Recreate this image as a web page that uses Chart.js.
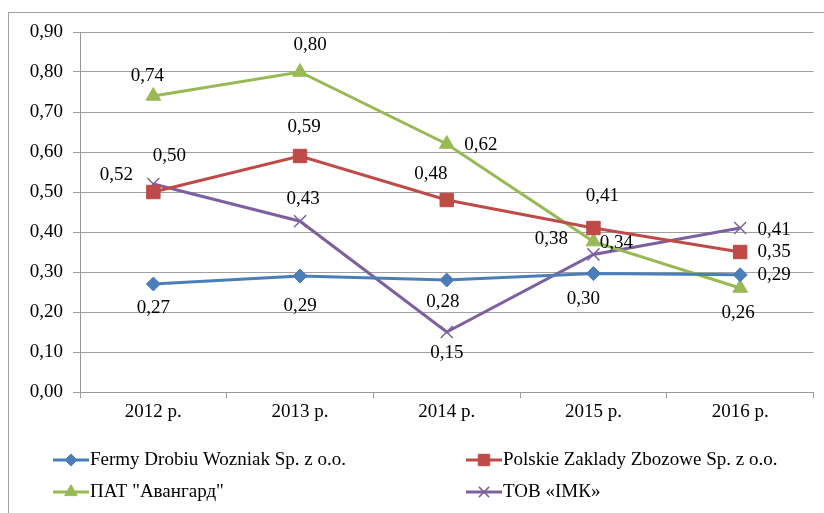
<!DOCTYPE html>
<html><head><meta charset="utf-8">
<script src="https://cdn.jsdelivr.net/npm/chart.js@4/dist/chart.umd.min.js"></script>
<style>html,body{margin:0;padding:0;background:#fff}#wrap{width:824px;height:513px;position:relative}</style>
</head><body><div id="wrap"><canvas id="c" width="824" height="513"></canvas></div>
<script>
const categories = ['2012 р.', '2013 р.', '2014 р.', '2015 р.', '2016 р.'];
const seriesNames = ['Fermy Drobiu Wozniak Sp. z o.o.', 'Polskie Zaklady Zbozowe Sp. z o.o.', 'ПАТ "Авангард"', 'ТОВ «ІМК»'];
const fermyValues = [0.27, 0.29, 0.28, 0.296, 0.293];
const polskieValues = [0.50, 0.59, 0.48, 0.41, 0.35];
const avangardValues = [0.74, 0.80, 0.62, 0.376, 0.26];
const imkValues = [0.52, 0.427, 0.15, 0.344, 0.41];
const yTickValues = [0, 0.1, 0.2, 0.3, 0.4, 0.5, 0.6, 0.7, 0.8, 0.9];

// label placement (style only): dx, dy from each point
const labelOffsets = [
  [[0,24],[0,30],[-4,22],[-10,25],[34,0]],
  [[16,-36],[4,-29],[-16,-26],[9,-32],[34,0]],
  [[-6,-20],[10,-27],[34,1],[-42,-3],[-2,25]],
  [[-37,-9],[3,-22],[0,21],[23,-11],[34,2]]
];
const colors = ['#4A7EBB', '#BE4B48', '#98B954', '#7D60A0'];
const FONT = "'Liberation Serif', 'Times New Roman', serif";
const fmt = v => v.toFixed(2).replace('.', ',');

const datasets = [
  {label: seriesNames[0], data: fermyValues, pointStyle: 'rectRot', pointRadius: 7},
  {label: seriesNames[1], data: polskieValues, pointStyle: 'rect', pointRadius: 9.5},
  {label: seriesNames[2], data: avangardValues, pointStyle: 'triangle', pointRadius: 8.5},
  {label: seriesNames[3], data: imkValues, pointStyle: 'crossRot', pointRadius: 8.5}
].map((d, i) => Object.assign(d, {
  borderColor: colors[i], backgroundColor: colors[i],
  pointBackgroundColor: colors[i], pointBorderColor: colors[i],
  pointBorderWidth: i === 3 ? 1.5 : 1, borderWidth: 3, tension: 0,
  pointHoverRadius: d.pointRadius
}));

const frame = {
  id: 'frame',
  beforeDraw(chart) {
    const ctx = chart.ctx;
    ctx.save();
    ctx.fillStyle = '#fff';
    ctx.fillRect(0, 0, chart.width, chart.height);
    ctx.strokeStyle = '#a0a0a0';
    ctx.lineWidth = 1;
    ctx.strokeRect(8.5, 12.5, 900, 600);
    ctx.restore();
  }
};

const dataLabels = {
  id: 'dataLabels',
  afterDatasetsDraw(chart) {
    const ctx = chart.ctx;
    ctx.save();
    ctx.font = '19px ' + FONT;
    ctx.fillStyle = '#000';
    ctx.textAlign = 'center';
    ctx.textBaseline = 'middle';
    chart.data.datasets.forEach((ds, di) => {
      const meta = chart.getDatasetMeta(di);
      meta.data.forEach((el, i) => {
        const o = labelOffsets[di][i];
        ctx.fillText(fmt(ds.data[i]), el.x + o[0], el.y + o[1]);
      });
    });
    ctx.restore();
  }
};

const customLegend = {
  id: 'customLegend',
  afterDraw(chart) {
    const ctx = chart.ctx;
    const pos = [[53, 460], [466, 460], [53, 492], [466, 492]];
    ctx.save();
    chart.data.datasets.forEach((ds, i) => {
      const [x, y] = pos[i];
      ctx.strokeStyle = ds.borderColor;
      ctx.lineWidth = 3;
      ctx.beginPath();
      ctx.moveTo(x, y); ctx.lineTo(x + 36, y);
      ctx.stroke();
      ctx.fillStyle = ds.borderColor;
      ctx.strokeStyle = ds.borderColor;
      ctx.lineWidth = ds.pointBorderWidth;
      Chart.helpers.drawPoint(ctx, {pointStyle: ds.pointStyle, rotation: 0, borderWidth: ds.pointBorderWidth, radius: ds.pointRadius * 0.85}, x + 18, y);
      ctx.fillStyle = '#000';
      ctx.font = '19px ' + FONT;
      ctx.textAlign = 'left';
      ctx.textBaseline = 'middle';
      ctx.fillText(ds.label, x + 37, y);
    });
    ctx.restore();
  }
};

new Chart(document.getElementById('c'), {
  type: 'line',
  data: {labels: categories, datasets},
  options: {
    responsive: false, animation: false, devicePixelRatio: 1,
    layout: {padding: {left: 0, right: 7, top: 32, bottom: 81}},
    plugins: {legend: {display: false}, tooltip: {enabled: false}},
    scales: {
      x: {
        offset: true,
        grid: {display: true, drawOnChartArea: false, drawTicks: true, tickLength: 6, offset: true, color: '#999', lineWidth: 1},
        border: {display: true, color: '#999', width: 1},
        ticks: {font: {family: FONT, size: 19}, color: '#000', padding: 3, maxRotation: 0, autoSkip: false},
        afterFit(s) { s.height = 40; }
      },
      y: {
        min: 0, max: 0.9,
        afterBuildTicks(s) { s.ticks = yTickValues.map(v => ({value: v})); },
        grid: {color: '#a0a0a0', lineWidth: 1, tickLength: 7, drawTicks: true},
        border: {display: true, color: '#999', width: 1},
        ticks: {font: {family: FONT, size: 19}, color: '#000', padding: 10, callback: v => fmt(v)},
        afterFit(s) { s.width = 80; }
      }
    }
  },
  plugins: [frame, dataLabels, customLegend]
});
</script></body></html>
